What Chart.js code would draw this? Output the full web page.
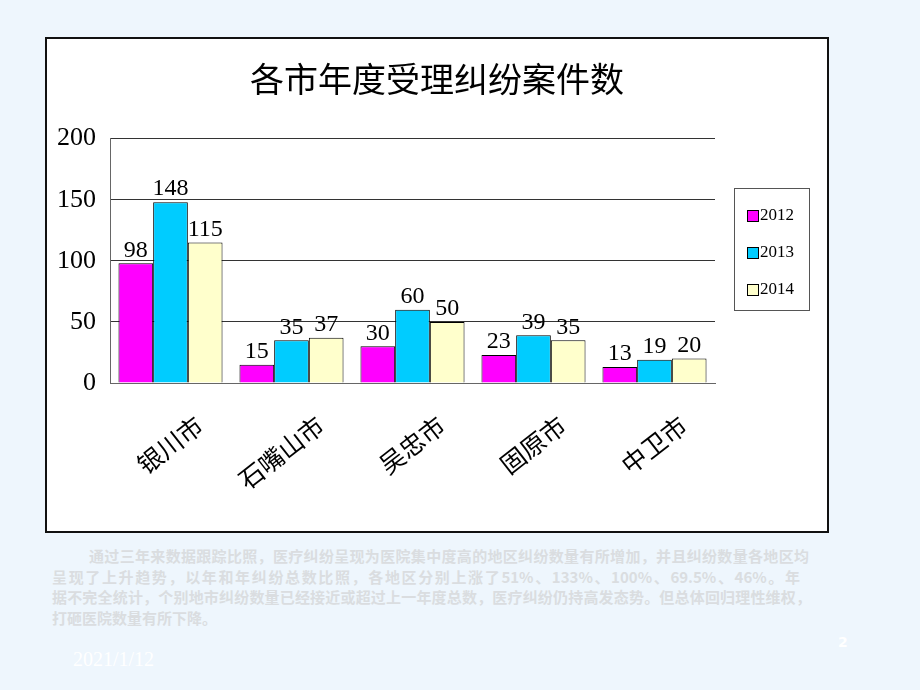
<!DOCTYPE html>
<html>
<head>
<meta charset="utf-8">
<script src="https://cdn.jsdelivr.net/npm/chart.js@4/dist/chart.umd.min.js"></script>
<style>
  html, body { margin: 0; padding: 0; }
  body { width: 920px; height: 690px; background: #eef6fd; position: relative; overflow: hidden; font-family: "Noto Sans CJK SC", sans-serif; }
  #box { position: absolute; left: 45px; top: 37px; width: 780px; height: 492px; border: 2px solid #111; background: #fff; }
  #box canvas { display: block; }
  #note { position: absolute; left: 52px; top: 546px; font-size: 15px; line-height: 20.5px; color: #dadde0; font-weight: bold; }
  #note div { white-space: nowrap; text-align: justify; text-align-last: justify; }
  #date { position: absolute; left: 73px; top: 648px; color: #fff; font-family: "Liberation Serif", serif; font-size: 20px; }
  #page { position: absolute; left: 838px; top: 634px; color: #fff; font-family: "DejaVu Sans", sans-serif; font-size: 14px; font-weight: bold; }
</style>
</head>
<body>
<div id="box"><canvas id="bargraph" width="780" height="492"></canvas></div>
<div id="note">
  <div style="margin-left:37px;width:720px">通过三年来数据跟踪比照，医疗纠纷呈现为医院集中度高的地区纠纷数量有所增加，并且纠纷数量各地区均</div>
  <div style="width:748px">呈现了上升趋势，以年和年纠纷总数比照，各地区分别上涨了51%、133%、100%、69.5%、46%。年</div>
  <div style="width:759px">据不完全统计，个别地市纠纷数量已经接近或超过上一年度总数，医疗纠纷仍持高发态势。但总体回归理性维权，</div>
  <div style="text-align-last:left">打砸医院数量有所下降。</div>
</div>
<div id="date">2021/1/12</div>
<div id="page">2</div>
<script>
var cities = ["银川市", "石嘴山市", "吴忠市", "固原市", "中卫市"];
var years = ["2012", "2013", "2014"];
var cases2012 = [98, 15, 30, 23, 13];
var cases2013 = [148, 35, 60, 39, 19];
var cases2014 = [115, 37, 50, 35, 20];
var yTicks = [0, 50, 100, 150, 200];
var colors = ['#ff00ff', '#00ccff', '#ffffcc'];
var chartTitle = '各市年度受理纠纷案件数';

// title centred over the whole box, value labels above the bars
var valueLabels = {
  id: 'valueLabels',
  afterDatasetsDraw: function (chart) {
    var ctx = chart.ctx;
    ctx.save();
    ctx.font = '34px "Noto Sans CJK SC", sans-serif';
    ctx.fillStyle = '#000';
    ctx.textAlign = 'center';
    ctx.textBaseline = 'middle';
    ctx.fillText(chartTitle, chart.width / 2, 40);

    ctx.font = '24px "Liberation Serif", serif';
    ctx.textBaseline = 'bottom';
    chart.data.datasets.forEach(function (ds, i) {
      chart.getDatasetMeta(i).data.forEach(function (bar, j) {
        ctx.fillText(ds.data[j], bar.x, bar.y - 1);
      });
    });
    ctx.restore();
  }
};

// boxed legend at the right
var boxLegend = {
  id: 'boxLegend',
  afterDraw: function (chart) {
    var ctx = chart.ctx;
    var x = 687, y = 149, w = 75, h = 122;
    ctx.save();
    ctx.strokeStyle = '#555';
    ctx.lineWidth = 1;
    ctx.strokeRect(x + 0.5, y + 0.5, w, h);
    ctx.font = '17px "Liberation Serif", serif';
    ctx.textBaseline = 'middle';
    chart.data.datasets.forEach(function (ds, i) {
      var cy = y + 28 + i * 37;
      ctx.fillStyle = ds.backgroundColor;
      ctx.fillRect(x + 13, cy - 6, 11, 11);
      ctx.strokeStyle = '#000';
      ctx.strokeRect(x + 13.5, cy - 5.5, 11, 11);
      ctx.fillStyle = '#000';
      ctx.fillText(ds.label, x + 26, cy);
    });
    ctx.restore();
  }
};

var barData = {
  labels: cities,
  datasets: [cases2012, cases2013, cases2014].map(function (d, i) {
    return {
      label: years[i],
      data: d,
      backgroundColor: colors[i],
      borderColor: '#000',
      borderWidth: 1,
      barPercentage: 1,
      categoryPercentage: 0.86
    };
  })
};

var ctx = document.getElementById('bargraph').getContext('2d');
window.myBar = new Chart(ctx, {
  type: 'bar',
  data: barData,
  plugins: [valueLabels, boxLegend],
  options: {
    responsive: false,
    animation: false,
    layout: { padding: { left: 0, right: 112, top: 0, bottom: 0 } },
    plugins: {
      legend: { display: false },
      tooltip: { enabled: false },
      title: {
        display: true,
        text: ' ',
        font: { size: 33 },
        padding: { top: 19, bottom: 41 }
      }
    },
    scales: {
      x: {
        grid: { display: false },
        border: { color: '#666', width: 1 },
        ticks: {
          color: '#000',
          minRotation: 38,
          maxRotation: 38,
          padding: 19,
          labelOffset: 29,
          font: { family: '"Noto Sans CJK SC", sans-serif', size: 25 }
        },
        afterFit: function (s) { s.height = 148; }
      },
      y: {
        min: 0,
        max: 200,
        afterBuildTicks: function (s) { s.ticks = yTicks.map(function (v) { return { value: v }; }); },
        grid: { color: '#333', lineWidth: 1, drawTicks: false },
        border: { color: '#666', width: 1 },
        ticks: {
          color: '#000',
          padding: 14,
          font: { family: '"Liberation Serif", serif', size: 26 }
        },
        afterFit: function (s) { s.width = 63; }
      }
    }
  }
});
</script>
</body>
</html>
